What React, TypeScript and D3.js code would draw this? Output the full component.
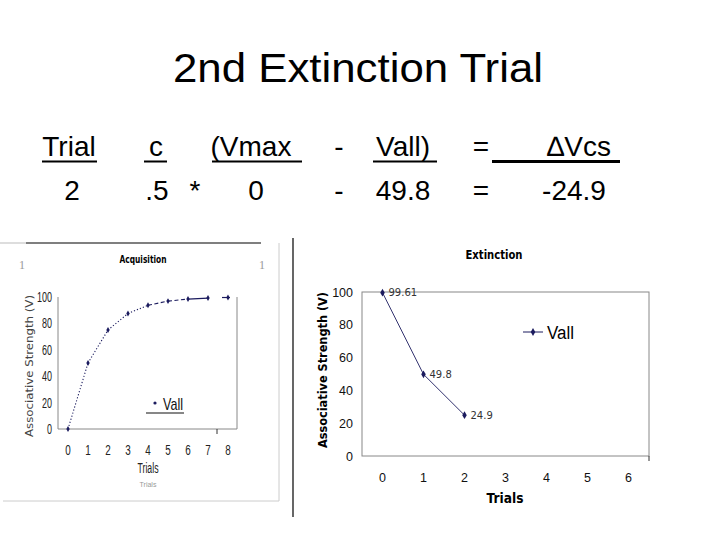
import React from "react";
import * as d3 from "d3";

const acqTrials = [0, 1, 2, 3, 4, 5, 6, 7, 8];
const acqValues = [0, 50, 75, 87.5, 93.75, 96.88, 98.44, 99.22, 99.61];
const extTrials = [0, 1, 2, 3, 4, 5, 6];
const extValues = [99.61, 49.8, 24.9];
const extLabels = ["99.61", "49.8", "24.9"];
const yTicks = [0, 20, 40, 60, 80, 100];
const headerRow1 = [
  { t: "Trial", x: 69, u: [42, 97] },
  { t: "c", x: 156, u: [144, 167] },
  { t: "(Vmax", x: 251, u: [212, 302] },
  { t: "-", x: 339, u: null },
  { t: "Vall)", x: 403, u: [373, 437] },
  { t: "=", x: 481, u: null },
  { t: "\u2206Vcs", x: 579, u: [492, 620] },
];
const headerRow2 = [
  { t: "2", x: 72 },
  { t: ".5", x: 157 },
  { t: "*", x: 195 },
  { t: "0", x: 256 },
  { t: "-", x: 339 },
  { t: "49.8", x: 403 },
  { t: "=", x: 481 },
  { t: "-24.9", x: 574 },
];

const navy = "#1b1b5e";

export default function App() {
  const ax = d3.scalePoint<number>().domain(acqTrials).range([58, 238]).padding(0.5);
  const ay = d3.scaleLinear().domain([0, 100]).range([429, 297]);
  const ex = d3.scalePoint<number>().domain(extTrials).range([362, 649]).padding(0.5);
  const ey = d3.scaleLinear().domain([0, 100]).range([456, 292]);

  const segStyle = (i: number) => {
    if (i < 4) return { dash: "1.2 2", show: true, w: 1.1 };
    if (i < 6) return { dash: "4 2.5", show: true, w: 1.1 };
    if (i < 7) return { dash: "none", show: true, w: 1.3 };
    return { dash: "none", show: false, w: 1 };
  };

  const extLine = d3
    .line<number>()
    .x((_, i) => ex(extTrials[i]) as number)
    .y((d) => ey(d));

  const sans = "'Liberation Sans', Arial, sans-serif";
  const dv = "'DejaVu Sans', Verdana, sans-serif";

  return (
    <svg
      width={720}
      height={540}
      style={{ position: "absolute", left: 0, top: 0, background: "#fff" }}
      fontFamily={sans}
    >
      <rect x={0} y={0} width={720} height={540} fill="#fff" />
      <text x={358} y={82} fontSize={40} textAnchor="middle" fill="#000" textLength={370} lengthAdjust="spacingAndGlyphs">
        2nd Extinction Trial
      </text>
      {headerRow1.map((h, i) => (
        <g key={"r1" + i}>
          <text x={h.x} y={156} fontSize={28} textAnchor="middle" fill="#000">
            {h.t}
          </text>
          {h.u && <line x1={h.u[0]} x2={h.u[1]} y1={161.5} y2={161.5} stroke="#000" strokeWidth={i === 6 ? 3 : 2} />}
        </g>
      ))}
      {headerRow2.map((h, i) => (
        <text key={"r2" + i} x={h.x} y={200} fontSize={28} textAnchor="middle" fill="#000">
          {h.t}
        </text>
      ))}

      {/* Acquisition chart frame */}
      <line x1={0} x2={26} y1={243} y2={243} stroke="#bbb" strokeWidth={1} />
      <line x1={26} x2={261} y1={243} y2={243} stroke="#000" strokeWidth={1.2} />
      <line x1={279} x2={279} y1={243} y2={501} stroke="#ccc" strokeWidth={1} />
      <line x1={3} x2={279} y1={501} y2={501} stroke="#ccc" strokeWidth={1} />
      <text x={22} y={269} fontSize={12} fill="#999" textAnchor="middle" fontFamily="serif">1</text>
      <text x={262} y={269} fontSize={12} fill="#999" textAnchor="middle" fontFamily="serif">1</text>
      <text x={143} y={263} fontSize={11} fontWeight="bold" textAnchor="middle" fontFamily={dv} textLength={47} lengthAdjust="spacingAndGlyphs">
        Acquisition
      </text>
      <line x1={58} x2={58} y1={297} y2={429} stroke="#888" />
      <line x1={58} x2={237} y1={429} y2={429} stroke="#888" />
      <line x1={237} x2={237} y1={297} y2={429} stroke="#888" />
      <line x1={217} x2={217} y1={429} y2={434} stroke="#333" />
      {yTicks.map((t) => (
        <text
          key={"ay" + t}
          x={52}
          y={ay(t) + 5}
          fontSize={14}
          textAnchor="end"
          fill="#222"
          textLength={String(t).length * 5}
          lengthAdjust="spacingAndGlyphs"
        >
          {t}
        </text>
      ))}
      {acqTrials.map((t) => (
        <text key={"ax" + t} x={ax(t)} y={455} fontSize={14} textAnchor="middle" fill="#222" textLength={5.5} lengthAdjust="spacingAndGlyphs">
          {t}
        </text>
      ))}
      {acqValues.slice(0, -1).map((v, i) => {
        const s = segStyle(i);
        if (!s.show) return null;
        return (
          <line
            key={"as" + i}
            x1={ax(acqTrials[i])}
            y1={ay(v)}
            x2={ax(acqTrials[i + 1])}
            y2={ay(acqValues[i + 1])}
            stroke={navy}
            strokeWidth={s.w}
            strokeDasharray={s.dash}
          />
        );
      })}
      <line x1={(ax(8) as number) - 6} x2={(ax(8) as number) + 2} y1={ay(acqValues[8])} y2={ay(acqValues[8])} stroke={navy} strokeWidth={1.2} />
      {acqValues.map((v, i) => (
        <path
          key={"am" + i}
          d={d3.symbol().type(d3.symbolDiamond).size(10)() as string}
          transform={`translate(${ax(acqTrials[i])},${ay(v)})`}
          fill={navy}
        />
      ))}
      <circle cx={155} cy={403} r={1.6} fill={navy} />
      <text x={163} y={410} fontSize={17} fill="#111" textLength={20} lengthAdjust="spacingAndGlyphs">
        Vall
      </text>
      <line x1={146} x2={184} y1={413} y2={413} stroke="#111" strokeWidth={1.2} />
      <text
        transform="translate(33,366) rotate(-90)"
        fontSize={11}
        textAnchor="middle"
        fill="#444"
        fontFamily={dv}
        textLength={142}
        lengthAdjust="spacingAndGlyphs"
      >
        Associative Strength (V)
      </text>
      <text x={148} y={473} fontSize={14} textAnchor="middle" fill="#222" textLength={21} lengthAdjust="spacingAndGlyphs">
        Trials
      </text>
      <text x={148} y={487} fontSize={7} textAnchor="middle" fill="#999">
        Trials
      </text>

      {/* Extinction chart */}
      <line x1={293} x2={293} y1={238} y2={517} stroke="#000" strokeWidth={1.2} />
      <text x={494} y={259} fontSize={12} fontWeight="bold" textAnchor="middle" fontFamily={dv} textLength={57} lengthAdjust="spacingAndGlyphs">
        Extinction
      </text>
      <rect x={362} y={292} width={287} height={164} fill="none" stroke="#888" strokeWidth={1} />
      <line x1={649} x2={649} y1={456} y2={461} stroke="#333" />
      {yTicks.map((t) => (
        <text key={"ey" + t} x={353} y={ey(t) + 4.5} fontSize={12.5} textAnchor="end" fill="#111">
          {t}
        </text>
      ))}
      {extTrials.map((t) => (
        <text key={"ex" + t} x={ex(t)} y={482} fontSize={12.5} textAnchor="middle" fill="#111">
          {t}
        </text>
      ))}
      <path d={extLine(extValues) as string} fill="none" stroke={navy} strokeWidth={0.9} />
      {extValues.map((v, i) => (
        <g key={"em" + i}>
          <path
            d={d3.symbol().type(d3.symbolDiamond).size(18)() as string}
            transform={`translate(${ex(extTrials[i])},${ey(v)})`}
            fill={navy}
          />
          <text x={(ex(extTrials[i]) as number) + 6} y={ey(v) + 3.5} fontSize={10} fill="#333" fontFamily={dv}>
            {extLabels[i]}
          </text>
        </g>
      ))}
      <line x1={523} x2={543} y1={332} y2={332} stroke={navy} strokeWidth={1} />
      <path d={d3.symbol().type(d3.symbolDiamond).size(18)() as string} transform="translate(533,332)" fill={navy} />
      <text x={547} y={338.5} fontSize={18} fill="#000" textLength={27} lengthAdjust="spacingAndGlyphs">
        Vall
      </text>
      <text
        transform="translate(327,370) rotate(-90)"
        fontSize={12.5}
        fontWeight="bold"
        textAnchor="middle"
        fill="#000"
        fontFamily={dv}
        textLength={156}
        lengthAdjust="spacingAndGlyphs"
      >
        Associative Strength (V)
      </text>
      <text x={505} y={503} fontSize={14} fontWeight="bold" textAnchor="middle" fontFamily={dv} textLength={37} lengthAdjust="spacingAndGlyphs">
        Trials
      </text>
    </svg>
  );
}
